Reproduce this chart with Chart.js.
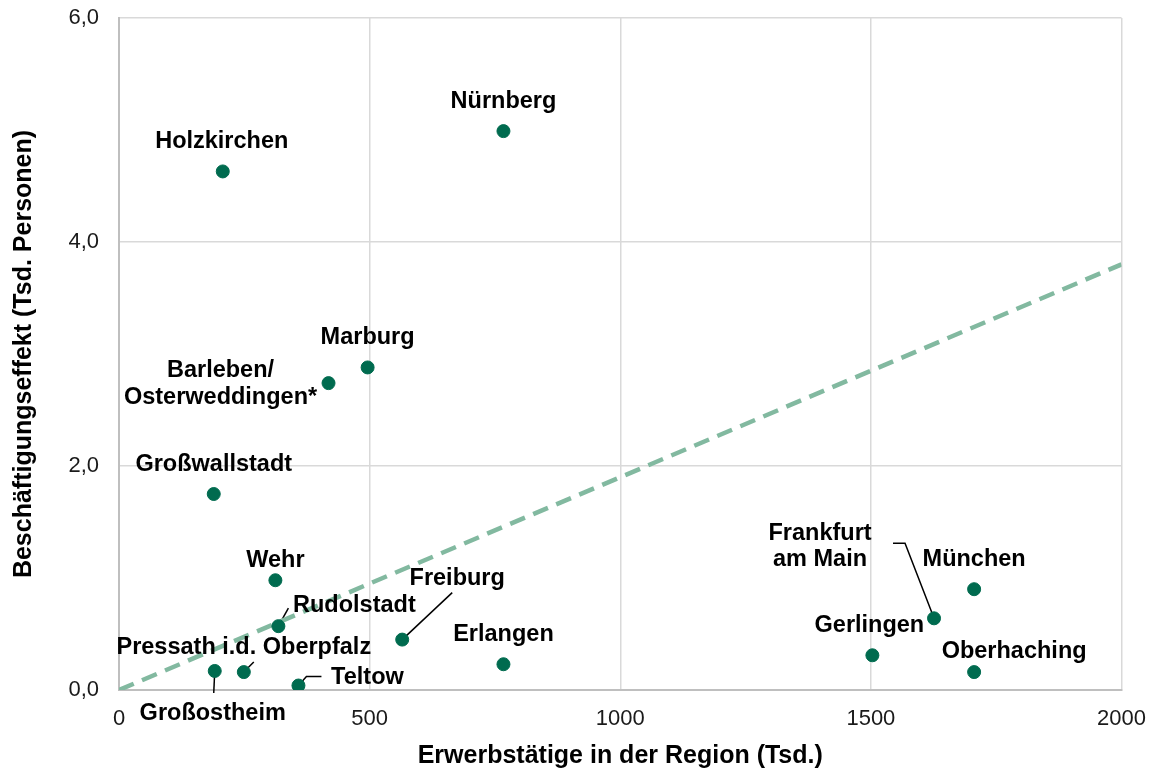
<!DOCTYPE html>
<html>
<head>
<meta charset="utf-8">
<script src="https://cdn.jsdelivr.net/npm/chart.js@4"></script>
<style>
  html, body { margin: 0; padding: 0; background: #fff; }
  #wrap { width: 1156px; height: 771px; }
</style>
</head>
<body>
<div id="wrap"><canvas id="effektChart"></canvas></div>
<script>
// Standorte und Werte
const orte = ['Holzkirchen', 'Nürnberg', 'Marburg', 'Barleben/\nOsterweddingen*', 'Großwallstadt',
    'Wehr', 'Rudolstadt', 'Freiburg', 'Pressath i.d. Oberpfalz', 'Großostheim', 'Teltow',
    'Erlangen', 'Gerlingen', 'Frankfurt\nam Main', 'München', 'Oberhaching'];
const erwerbstaetige = [207, 767, 496, 418, 189, 312, 318, 565, 249, 191, 358, 767, 1503, 1626, 1706, 1706];
const effekt = [4.63, 4.99, 2.88, 2.74, 1.75, 0.98, 0.57, 0.45, 0.16, 0.17, 0.04, 0.23, 0.31, 0.64, 0.90, 0.16];
const trendX = [0, 2000];
const trendY = [0, 3.8];
const xTicks = [0, 500, 1000, 1500, 2000];
const yTicks = [0, 2, 4, 6];

// Beschriftung: Versatz des Textes zum Punkt, optional Linie
const labelPos = [
    { dx: -1, dy: -30 },
    { dx: 0, dy: -30 },
    { dx: 0, dy: -30 },
    { dx: -108, dy: 1 },
    { dx: 0, dy: -29 },
    { dx: 0, dy: -20 },
    { dx: 76, dy: -21, line: [[0, 0], [10, -18]] },
    { dx: 55, dy: -61, line: [[0, 0], [50, -47]] },
    { dx: 0, dy: -25, line: [[0, 0], [10, -10]] },
    { dx: -2, dy: 43, line: [[0, 0], [-1, 22]] },
    { dx: 69, dy: -8, line: [[0, 0], [8, -9], [23, -9]] },
    { dx: 0, dy: -30 },
    { dx: -3, dy: -30 },
    { dx: -114, dy: -72, line: [[0, 0], [-29, -75], [-41, -75]] },
    { dx: 0, dy: -30 },
    { dx: 40, dy: -21 }
];

const labelPlugin = {
    id: 'ortLabels',
    beforeDatasetsDraw(chart) {
        const ctx = chart.ctx;
        const meta = chart.getDatasetMeta(1);
        ctx.save();
        ctx.strokeStyle = '#000';
        ctx.lineWidth = 1.5;
        meta.data.forEach((pt, i) => {
            const lp = labelPos[i];
            if (!lp.line) return;
            ctx.beginPath();
            lp.line.forEach((p, j) => {
                if (j === 0) ctx.moveTo(pt.x + p[0], pt.y + p[1]);
                else ctx.lineTo(pt.x + p[0], pt.y + p[1]);
            });
            ctx.stroke();
        });
        ctx.restore();
    },
    afterDatasetsDraw(chart) {
        const ctx = chart.ctx;
        const meta = chart.getDatasetMeta(1);
        ctx.save();
        ctx.font = 'bold 23.5px "Liberation Sans", Arial, sans-serif';
        ctx.fillStyle = '#000';
        ctx.textAlign = 'center';
        ctx.textBaseline = 'middle';
        meta.data.forEach((pt, i) => {
            const lp = labelPos[i];
            const lines = orte[i].split('\n');
            const lh = 26.5;
            const y0 = pt.y + lp.dy - (lines.length - 1) * lh / 2;
            lines.forEach((t, j) => {
                ctx.fillText(t, pt.x + lp.dx, y0 + j * lh);
            });
        });
        ctx.restore();
    }
};

const ctx = document.getElementById('effektChart').getContext('2d');
new Chart(ctx, {
    data: {
        datasets: [{
            type: 'line',
            label: 'Trend',
            data: trendX.map((x, i) => ({ x: x, y: trendY[i] })),
            borderColor: '#82b9a0',
            borderWidth: 4.5,
            borderDash: [16, 9],
            pointRadius: 0,
            fill: false,
            order: 2
        }, {
            type: 'scatter',
            label: 'Standorte',
            data: erwerbstaetige.map((x, i) => ({ x: x, y: effekt[i] })),
            backgroundColor: '#006b4f',
            borderColor: '#006b4f',
            pointRadius: 6.5,
            pointHoverRadius: 6.5,
            order: 1
        }]
    },
    options: {
        responsive: true,
        maintainAspectRatio: false,
        animation: false,
        layout: { padding: { top: 18, right: 34.5, left: 0, bottom: 0 } },
        plugins: {
            legend: { display: false },
            tooltip: { enabled: false }
        },
        scales: {
            x: {
                type: 'linear',
                min: 0,
                max: 2000,
                afterFit: s => {
                    s.height = 81;
                    s.paddingLeft = 0;
                    s.paddingRight = 0;
                },
                afterBuildTicks: s => { s.ticks = xTicks.map(v => ({ value: v })); },
                grid: { color: '#d9d9d9', lineWidth: 1.5, drawTicks: false },
                border: { color: '#bfbfbf', width: 2 },
                ticks: {
                    padding: 16,
                    color: '#1a1a1a',
                    font: { family: '"Liberation Sans", Arial, sans-serif', size: 22 },
                    callback: v => String(v)
                },
                title: {
                    display: true,
                    text: 'Erwerbstätige in der Region (Tsd.)',
                    color: '#000',
                    padding: { top: 0, bottom: 0 },
                    font: { family: '"Liberation Sans", Arial, sans-serif', size: 25, weight: 'bold' }
                }
            },
            y: {
                type: 'linear',
                min: 0,
                max: 6,
                afterFit: s => {
                    s.width = 119;
                    s.paddingTop = 0;
                    s.paddingBottom = 0;
                },
                afterBuildTicks: s => { s.ticks = yTicks.map(v => ({ value: v })); },
                grid: { color: '#d9d9d9', lineWidth: 1.5, drawTicks: false },
                border: { color: '#bfbfbf', width: 2 },
                ticks: {
                    padding: 20,
                    color: '#1a1a1a',
                    font: { family: '"Liberation Sans", Arial, sans-serif', size: 22 },
                    callback: v => v.toFixed(1).replace('.', ',')
                },
                title: {
                    display: true,
                    text: 'Beschäftigungseffekt (Tsd. Personen)',
                    color: '#000',
                    padding: { top: 9, bottom: 0 },
                    font: { family: '"Liberation Sans", Arial, sans-serif', size: 25, weight: 'bold' }
                }
            }
        }
    },
    plugins: [labelPlugin]
});
</script>
</body>
</html>
